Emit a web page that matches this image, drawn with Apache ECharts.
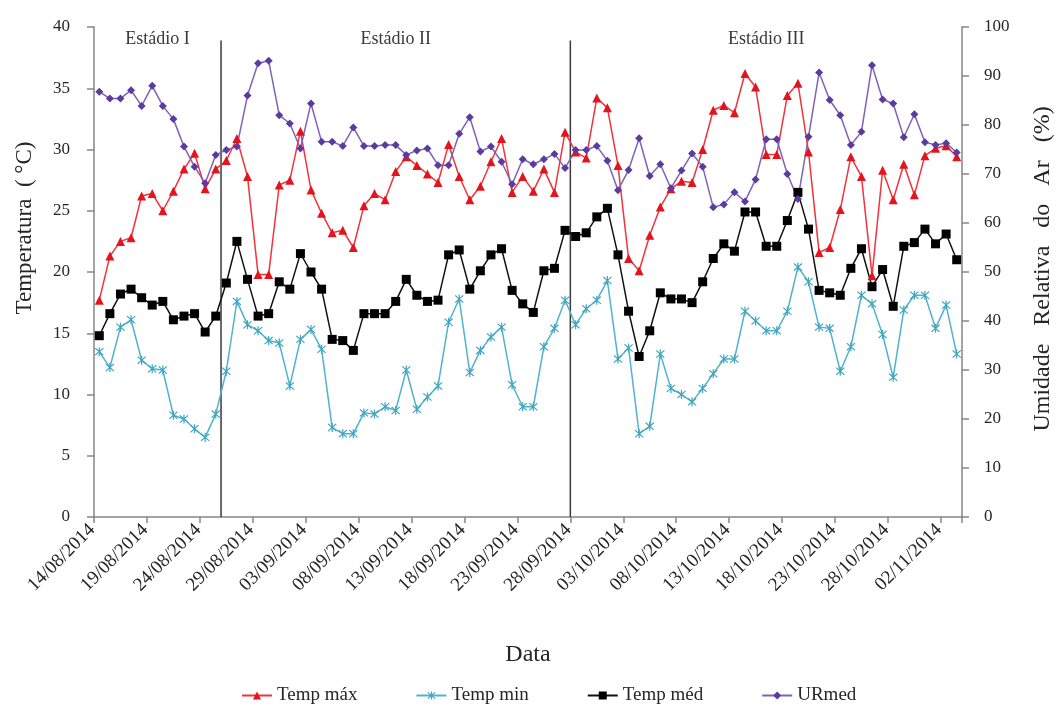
<!DOCTYPE html>
<html><head><meta charset="utf-8">
<script src="https://cdn.jsdelivr.net/npm/echarts@6/dist/echarts.min.js"></script>
<style>html,body{margin:0;padding:0;background:#fff}#c{width:1063px;height:711px}</style>
</head><body><div id="c"></div>
<script>
const dates = ['14/08/2014','15/08/2014','16/08/2014','17/08/2014','18/08/2014','19/08/2014','20/08/2014','21/08/2014','22/08/2014','23/08/2014',
'24/08/2014','25/08/2014','26/08/2014','27/08/2014','28/08/2014','29/08/2014','30/08/2014','31/08/2014','01/09/2014','02/09/2014',
'03/09/2014','04/09/2014','05/09/2014','06/09/2014','07/09/2014','08/09/2014','09/09/2014','10/09/2014','11/09/2014','12/09/2014',
'13/09/2014','14/09/2014','15/09/2014','16/09/2014','17/09/2014','18/09/2014','19/09/2014','20/09/2014','21/09/2014','22/09/2014',
'23/09/2014','24/09/2014','25/09/2014','26/09/2014','27/09/2014','28/09/2014','29/09/2014','30/09/2014','01/10/2014','02/10/2014',
'03/10/2014','04/10/2014','05/10/2014','06/10/2014','07/10/2014','08/10/2014','09/10/2014','10/10/2014','11/10/2014','12/10/2014',
'13/10/2014','14/10/2014','15/10/2014','16/10/2014','17/10/2014','18/10/2014','19/10/2014','20/10/2014','21/10/2014','22/10/2014',
'23/10/2014','24/10/2014','25/10/2014','26/10/2014','27/10/2014','28/10/2014','29/10/2014','30/10/2014','31/10/2014','01/11/2014',
'02/11/2014','03/11/2014'];

const tempMax = [17.7,21.3,22.5,22.8,26.2,26.4,25.0,26.6,28.4,29.7,
26.8,28.4,29.1,30.9,27.8,19.8,19.8,27.1,27.5,31.5,
26.7,24.8,23.2,23.4,22.0,25.4,26.4,25.9,28.2,29.4,
28.7,28.0,27.3,30.4,27.8,25.9,27.0,29.0,30.9,26.5,
27.8,26.6,28.4,26.5,31.4,29.8,29.3,34.2,33.4,28.7,
21.1,20.1,23.0,25.3,26.8,27.4,27.3,30.0,33.2,33.6,
33.0,36.2,35.1,29.6,29.6,34.4,35.4,29.8,21.6,22.0,
25.1,29.4,27.8,19.7,28.3,25.9,28.8,26.3,29.5,30.1,
30.3,29.4];

const tempMin = [13.5,12.2,15.5,16.1,12.8,12.1,12.0,8.3,8.0,7.2,
6.5,8.4,11.9,17.6,15.7,15.2,14.4,14.2,10.7,14.5,
15.3,13.7,7.3,6.8,6.8,8.5,8.4,9.0,8.7,12.0,
8.8,9.8,10.7,15.9,17.8,11.8,13.6,14.7,15.5,10.8,
9.0,9.0,13.9,15.4,17.7,15.7,17.0,17.7,19.3,12.9,
13.8,6.8,7.4,13.3,10.5,10.0,9.4,10.5,11.7,12.9,
12.9,16.8,16.0,15.2,15.2,16.8,20.4,19.2,15.5,15.4,
11.9,13.9,18.1,17.4,14.9,11.4,16.9,18.1,18.1,15.4,
17.3,13.3];

const tempMed = [14.8,16.6,18.2,18.6,17.9,17.3,17.6,16.1,16.4,16.6,
15.1,16.4,19.1,22.5,19.4,16.4,16.6,19.2,18.6,21.5,
20.0,18.6,14.5,14.4,13.6,16.6,16.6,16.6,17.6,19.4,
18.1,17.6,17.7,21.4,21.8,18.6,20.1,21.4,21.9,18.5,
17.4,16.7,20.1,20.3,23.4,22.9,23.2,24.5,25.2,21.4,
16.8,13.1,15.2,18.3,17.8,17.8,17.5,19.2,21.1,22.3,
21.7,24.9,24.9,22.1,22.1,24.2,26.5,23.5,18.5,18.3,
18.1,20.3,21.9,18.8,20.2,17.2,22.1,22.4,23.5,22.3,
23.1,21.0];

const urMed = [86.8,85.4,85.4,87.1,83.9,88.0,83.9,81.2,75.6,71.5,
68.1,73.9,74.9,75.6,86.0,92.6,93.1,82.0,80.3,75.2,
84.4,76.6,76.6,75.7,79.5,75.7,75.7,75.9,75.9,73.9,
74.8,75.2,71.8,71.8,78.2,81.6,74.6,75.6,72.5,67.9,
73.0,72.0,73.0,74.1,71.2,74.9,74.9,75.7,72.7,66.7,
70.8,77.3,69.6,72.0,67.1,70.7,74.2,71.5,63.2,63.8,
66.3,64.4,68.9,77.1,77.1,70.0,64.9,77.6,90.7,85.1,
82.0,75.9,78.6,92.2,85.2,84.4,77.5,82.2,76.5,75.9,
76.3,74.4];

const seriesNames = ['Temp máx','Temp min','Temp méd','URmed'];
const stageNames = ['Estádio I','Estádio II','Estádio III'];
const stageStartDates = ['26/08/2014','28/09/2014'];

const FONT = "'Liberation Serif','Times New Roman',serif";
const AXIS_COLOR = '#868686';
const TEXT_COLOR = '#262626';
const asterisk = 'path://M-0.6,-5L0.6,-5L0.6,5L-0.6,5Z M-3.58,-4.42L4.42,3.58L3.58,4.42L-4.42,-3.58Z M4.42,-3.58L-3.58,4.42L-4.42,3.58L3.58,-4.42Z';

const chart = echarts.init(document.getElementById('c'), null, {renderer: 'canvas'});

function mkSeries(name, data, lineColor, markColor, symbol, size, yIdx) {
  return {
    name: name, type: 'line', data: data, yAxisIndex: yIdx,
    symbol: symbol, symbolSize: size, showSymbol: true, showAllSymbol: true,
    lineStyle: {color: lineColor, width: 1.5},
    itemStyle: {color: markColor, borderWidth: 0},
    emphasis: {disabled: true}, animation: false
  };
}

chart.setOption({
  animation: false,
  backgroundColor: '#fff',
  grid: {left: 94, right: 101, top: 27, bottom: 194, containLabel: false},
  legend: {
    data: seriesNames, top: 681, left: 236, itemGap: 58, itemWidth: 30, itemHeight: 10,
    textStyle: {fontFamily: FONT, fontSize: 19, color: TEXT_COLOR}
  },
  xAxis: {
    type: 'category', data: dates, boundaryGap: true,
    name: 'Data', nameLocation: 'middle', nameGap: 126,
    nameTextStyle: {fontFamily: FONT, fontSize: 24, color: TEXT_COLOR},
    axisLine: {lineStyle: {color: AXIS_COLOR, width: 1.5}},
    axisTick: {show: true, interval: function (i) { return i % 5 === 0; }, length: 6, lineStyle: {color: AXIS_COLOR, width: 1.5}},
    axisLabel: {interval: 4, rotate: 45, margin: 3, padding: [0, 10, 0, 0], fontFamily: FONT, fontSize: 19, color: TEXT_COLOR},
    splitLine: {show: false}
  },
  yAxis: [
    {
      type: 'value', min: 0, max: 40, interval: 5, position: 'left',
      axisLine: {show: true, lineStyle: {color: AXIS_COLOR, width: 1.5}},
      axisTick: {show: true, length: 7, lineStyle: {color: AXIS_COLOR, width: 1.5}},
      axisLabel: {margin: 24, fontFamily: FONT, fontSize: 17, color: TEXT_COLOR},
      splitLine: {show: false}
    },
    {
      type: 'value', min: 0, max: 100, interval: 10, position: 'right',
      axisLine: {show: true, lineStyle: {color: AXIS_COLOR, width: 1.5}},
      axisTick: {show: true, length: 7, lineStyle: {color: AXIS_COLOR, width: 1.5}},
      axisLabel: {margin: 22, fontFamily: FONT, fontSize: 17, color: TEXT_COLOR},
      splitLine: {show: false}
    }
  ],
  series: [
    mkSeries(seriesNames[0], tempMax, '#F2323C', '#E3141E', 'triangle', 9, 0),
    mkSeries(seriesNames[1], tempMin, '#4FB3CC', '#3FA5C0', asterisk, 9, 0),
    mkSeries(seriesNames[2], tempMed, '#111111', '#000000', 'rect', 9, 0),
    mkSeries(seriesNames[3], urMed, '#7F62B8', '#5B3C9E', 'diamond', 8, 1)
  ]
});

// stage dividers and labels, positioned through the chart's own scales
function boundaryX(dateStr) {
  const i = dates.indexOf(dateStr);
  const a = chart.convertToPixel({xAxisIndex: 0}, i - 1);
  const b = chart.convertToPixel({xAxisIndex: 0}, i);
  return (a + b) / 2;
}
const step = chart.convertToPixel({xAxisIndex: 0}, 1) - chart.convertToPixel({xAxisIndex: 0}, 0);
const yBottom = chart.convertToPixel({yAxisIndex: 0}, 0);
const yTop = chart.convertToPixel({yAxisIndex: 0}, 38.9);
const yLabel = chart.convertToPixel({yAxisIndex: 0}, 39.0);
const xStart = chart.convertToPixel({xAxisIndex: 0}, 0) - step / 2;
const xEnd = chart.convertToPixel({xAxisIndex: 0}, dates.length - 1) + step / 2;
const bounds = [xStart].concat(stageStartDates.map(boundaryX)).concat([xEnd]);

const graphics = [];
stageStartDates.forEach(function (d) {
  const x = boundaryX(d);
  graphics.push({type: 'line', shape: {x1: x, y1: yBottom, x2: x, y2: yTop},
    style: {stroke: '#3a3a3a', lineWidth: 1.5}, z: 1});
});
stageNames.forEach(function (n, k) {
  graphics.push({type: 'text', x: (bounds[k] + bounds[k + 1]) / 2, y: yLabel,
    style: {text: n, fontFamily: FONT, fontSize: 18, fill: '#3a3a3a', align: 'center', verticalAlign: 'middle'}, z: 5});
});
// axis titles
graphics.push({type: 'text', x: 25, y: 228, rotation: Math.PI / 2,
  style: {text: 'Temperatura  ( °C)', fontFamily: FONT, fontSize: 23, fill: TEXT_COLOR, align: 'center', verticalAlign: 'middle'}});
graphics.push({type: 'text', x: 1043, y: 269, rotation: Math.PI / 2,
  style: {text: 'Umidade   Relativa   do   Ar   (%)', fontFamily: FONT, fontSize: 24, fill: TEXT_COLOR, align: 'center', verticalAlign: 'middle'}});

chart.setOption({graphic: graphics});
</script>
</body></html>
